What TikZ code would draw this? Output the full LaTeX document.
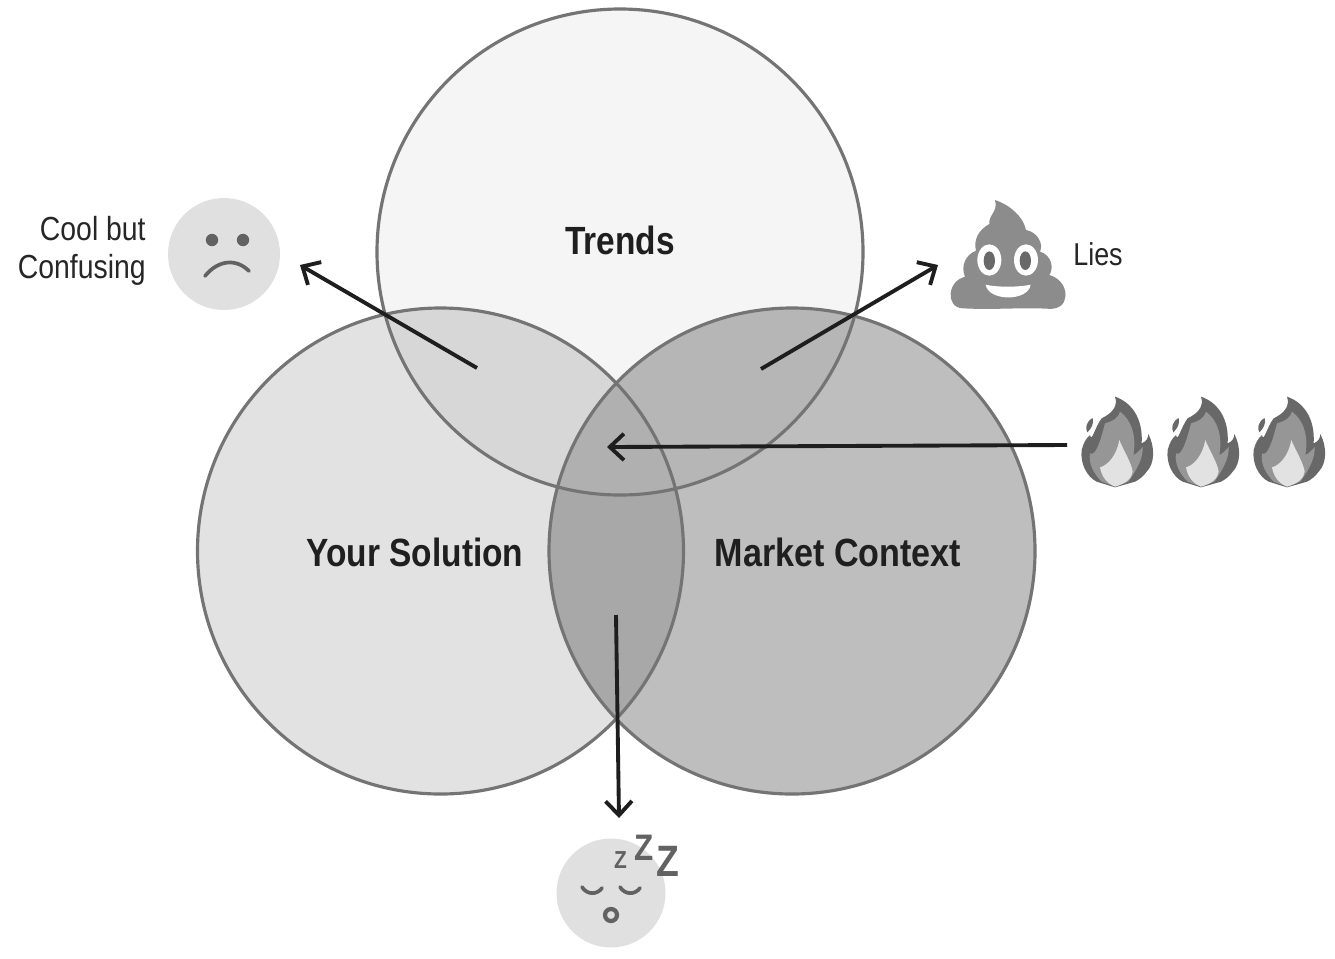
\documentclass[tikz,border=0pt]{standalone}
\usepackage{fontspec}
\setmainfont[FakeStretch=0.85]{Liberation Sans}
\usetikzlibrary{arrows.meta}
\definecolor{rimgray}{HTML}{747474}
\definecolor{inkgray}{HTML}{1E1E1E}
\definecolor{facegray}{HTML}{E0E0E0}
\definecolor{markgray}{HTML}{626262}
\tikzset{
  venntext/.style={font=\fontsize{22.4}{26}\selectfont\bfseries, text=black!88, inner sep=0pt},
  sidetext/.style={font=\fontsize{19}{22}\selectfont, text=black!85, inner sep=0pt},
  pointer/.style={draw=inkgray, line width=2.2pt, -{Straight Barb[length=8pt,width=15pt,line width=2.2pt]}},
  rim/.style={draw=rimgray, line width=1.8pt},
  facemark/.style={draw=markgray, line width=2.1pt, line cap=round},
  zzz/.style={text=markgray, inner sep=0pt},
}
\begin{document}
\begin{tikzpicture}[x=0.02cm, y=-0.02cm]
% Set the page and the three circles
\useasboundingbox (0,0) rectangle (1335,958);
\fill[white] (0,0) rectangle (1335,958);
\def\trendscirc{(620,252) circle[radius=243]}
\def\solutioncirc{(440.5,551) circle[radius=243]}
\def\marketcirc{(792,551) circle[radius=243]}

% Fill the circles and their overlaps
\fill[color={rgb,255:red,245;green,245;blue,245}] \trendscirc;
\fill[color={rgb,255:red,226;green,226;blue,226}] \solutioncirc;
\fill[color={rgb,255:red,190;green,190;blue,190}] \marketcirc;
\begin{scope}
\clip \trendscirc;
\fill[color={rgb,255:red,215;green,215;blue,215}] \solutioncirc;
\fill[color={rgb,255:red,182;green,182;blue,182}] \marketcirc;
\end{scope}
\begin{scope}
\clip \solutioncirc;
\fill[color={rgb,255:red,168;green,168;blue,168}] \marketcirc;
\clip \marketcirc;
\fill[color={rgb,255:red,176;green,176;blue,176}] \trendscirc;
\end{scope}
\draw[rim] \trendscirc;
\draw[rim] \solutioncirc;
\draw[rim] \marketcirc;

% Labels
\node[venntext] (trends) at (620,240) {Trends};
\node[venntext] (solution) at (415,552) {Your Solution};
\node[venntext, xscale=1.02] (market) at (838,552) {Market Context};
\node[sidetext, anchor=base east] (cool) at (146,240) {Cool but};
\node[sidetext, anchor=base east] (confusing) at (146,278) {Confusing};
\node[sidetext, anchor=base west, font=\fontsize{18}{22}\selectfont] (lies) at (1073,265) {Lies};

% Sad face
\node[circle, fill=facegray, minimum size=2.24cm, inner sep=0pt] (sad) at (224,254) {};
\fill[markgray] (212,240) circle[radius=6.2];
\fill[markgray] (243,240) circle[radius=6.2];
\draw[facemark] (205,276) .. controls (218,260) and (236,258) .. (249,271);

% Sleeping face
\node[circle, fill=facegray, minimum size=2.18cm, inner sep=0pt] (sleepy) at (611,893) {};
\draw[facemark] (582,887) .. controls (587,895) and (597,895) .. (602,888);
\draw[facemark] (620,887) .. controls (625,895) and (635,895) .. (640,888);
\draw[markgray, line width=2.4pt] (611,915) circle[radius=6];
\node[zzz, font=\fontsize{14}{14}\selectfont\bfseries] (zsmall) at (620.5,860) {Z};
\node[zzz, font=\fontsize{21}{21}\selectfont\bfseries] (zmid) at (644.5,848) {Z};
\node[zzz, font=\fontsize{25}{25}\selectfont\bfseries] (zbig) at (668,861) {Z};

% Pile with eyes
\begin{scope}[shift={(920,180)}, scale=1/3]
\fill[color={rgb,255:red,140;green,140;blue,140}] (225,60) .. controls (270,75) and (310,110) .. (318,150)
  .. controls (350,155) and (372,190) .. (360,215)
  .. controls (395,225) and (402,265) .. (388,285)
  .. controls (425,295) and (442,330) .. (435,355)
  .. controls (430,385) and (400,388) .. (380,386)
  .. controls (300,382) and (220,390) .. (130,385)
  .. controls (100,385) and (90,360) .. (92,340)
  .. controls (95,312) and (115,295) .. (135,290)
  .. controls (122,260) and (135,225) .. (168,212)
  .. controls (160,180) and (175,150) .. (208,132)
  .. controls (205,105) and (235,95) .. (225,60) -- cycle;
\fill[white] (208,240) ellipse[x radius=36, y radius=47];
\fill[white] (318,240) ellipse[x radius=36, y radius=47];
\fill[color={rgb,255:red,105;green,105;blue,105}] (208,242) ellipse[x radius=17, y radius=28];
\fill[color={rgb,255:red,105;green,105;blue,105}] (316,242) ellipse[x radius=17, y radius=28];
\fill[white] (197,314) .. controls (230,322) and (295,322) .. (332,314)
  .. controls (325,365) and (205,365) .. (197,314) -- cycle;
\end{scope}

% Flame drawn three times
\def\flame{
\fill[color={rgb,255:red,104;green,104;blue,104}] (585,650) .. controls (630,665) and (670,710) .. (665,790)
  .. controls (678,785) and (685,775) .. (685,762)
  .. controls (705,800) and (705,850) .. (680,875)
  .. controls (670,890) and (655,900) .. (645,905)
  -- (585,922) -- (530,905)
  .. controls (500,890) and (480,850) .. (485,810)
  .. controls (490,790) and (498,775) .. (510,765)
  .. controls (515,790) and (525,740) .. (545,715)
  .. controls (575,700) and (595,680) .. (585,650) -- cycle;
\fill[color={rgb,255:red,104;green,104;blue,104}] (518,714) .. controls (498,725) and (495,745) .. (502,757)
  .. controls (515,745) and (522,730) .. (518,714) -- cycle;
\fill[color={rgb,255:red,150;green,150;blue,150}] (600,695) .. controls (635,720) and (650,770) .. (640,825)
  .. controls (650,820) and (660,812) .. (668,800)
  .. controls (670,835) and (650,870) .. (625,905)
  -- (585,920) -- (545,905)
  .. controls (520,880) and (505,850) .. (510,820)
  .. controls (525,830) and (540,790) .. (555,730)
  .. controls (575,725) and (595,715) .. (600,695) -- cycle;
\fill[color={rgb,255:red,226;green,226;blue,226}] (598,780) .. controls (610,810) and (635,850) .. (638,875)
  .. controls (635,895) and (620,910) .. (585,920)
  .. controls (560,910) and (545,890) .. (540,862)
  .. controls (565,855) and (590,825) .. (598,780) -- cycle;
}
\begin{scope}[shift={(920,180)}, scale=1/3]
\flame
\end{scope}
\begin{scope}[shift={(1006,180)}, scale=1/3]
\flame
\end{scope}
\begin{scope}[shift={(1092,180)}, scale=1/3]
\flame
\end{scope}

% Arrows
\coordinate (leftstart) at (477,368);
\coordinate (lefthead) at (300,265);
\coordinate (rightstart) at (761,369);
\coordinate (righthead) at (938,265);
\coordinate (firestart) at (1067,445);
\coordinate (firehead) at (607,447);
\coordinate (downstart) at (616,615);
\coordinate (downhead) at (619,818);
\draw[pointer] (leftstart) -- (lefthead);
\draw[pointer] (rightstart) -- (righthead);
\draw[pointer] (firestart) -- (firehead);
\draw[pointer] (downstart) -- (downhead);
\end{tikzpicture}
\end{document}
